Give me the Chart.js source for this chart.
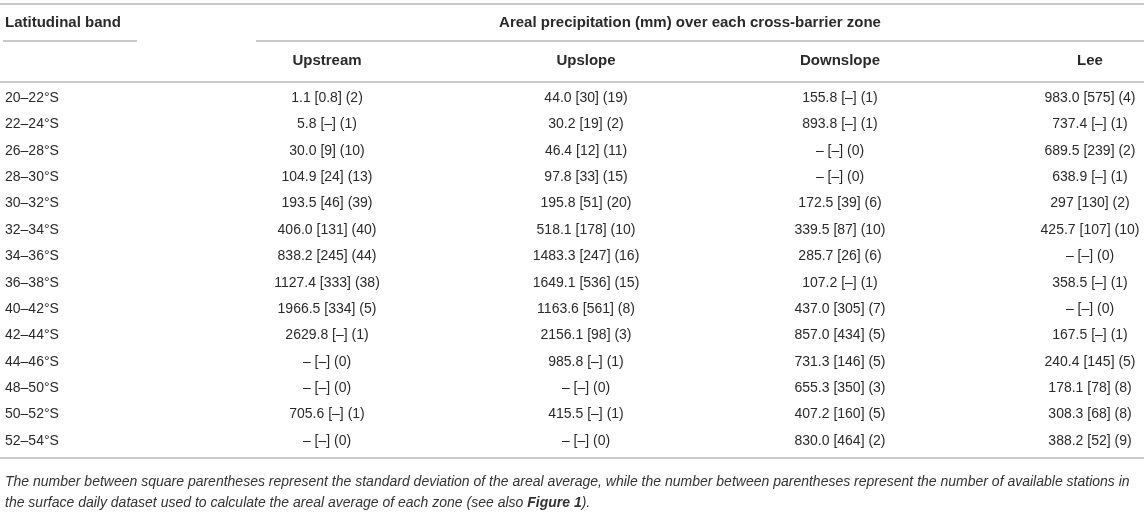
<!DOCTYPE html>
<html>
<head>
<meta charset="utf-8">
<script src="https://cdn.jsdelivr.net/npm/chart.js@4.4.1/dist/chart.umd.min.js"></script>
<style>
  html, body { margin: 0; padding: 0; background: #ffffff; }
  #wrap { width: 1144px; height: 524px; }
</style>
</head>
<body>
<div id="wrap"><canvas id="table-chart" width="1144" height="524"></canvas></div>
<script>
// rows of the table
const bands = [
  "20–22°S", "22–24°S", "26–28°S", "28–30°S", "30–32°S", "32–34°S", "34–36°S",
  "36–38°S", "40–42°S", "42–44°S", "44–46°S", "48–50°S", "50–52°S", "52–54°S",
];
const zones = ["Upstream", "Upslope", "Downslope", "Lee"];

// areal mean (mm), null = no value
const upstreamMean = ["1.1", "5.8", "30.0", "104.9", "193.5", "406.0", "838.2", "1127.4", "1966.5", "2629.8", null, null, "705.6", null];
const upslopeMean = ["44.0", "30.2", "46.4", "97.8", "195.8", "518.1", "1483.3", "1649.1", "1163.6", "2156.1", "985.8", null, "415.5", null];
const downslopeMean = ["155.8", "893.8", null, null, "172.5", "339.5", "285.7", "107.2", "437.0", "857.0", "731.3", "655.3", "407.2", "830.0"];
const leeMean = ["983.0", "737.4", "689.5", "638.9", "297", "425.7", null, "358.5", null, "167.5", "240.4", "178.1", "308.3", "388.2"];

// standard deviation of the areal average
const upstreamSd = [0.8, null, 9, 24, 46, 131, 245, 333, 334, null, null, null, null, null];
const upslopeSd = [30, 19, 12, 33, 51, 178, 247, 536, 561, 98, null, null, null, null];
const downslopeSd = [null, null, null, null, 39, 87, 26, null, 305, 434, 146, 350, 160, 464];
const leeSd = [575, null, 239, null, 130, 107, null, null, null, null, 145, 78, 68, 52];

// number of stations
const upstreamN = [2, 1, 10, 13, 39, 40, 44, 38, 5, 1, 0, 0, 1, 0];
const upslopeN = [19, 2, 11, 15, 20, 10, 16, 15, 8, 3, 1, 0, 1, 0];
const downslopeN = [1, 1, 0, 0, 6, 10, 6, 1, 7, 5, 5, 3, 5, 2];
const leeN = [4, 1, 2, 1, 2, 10, 0, 1, 0, 1, 5, 8, 8, 9];

const headerTitle = "Areal precipitation (mm) over each cross-barrier zone";
const bandTitle = "Latitudinal band";
const noteLine1 = "The number between square parentheses represent the standard deviation of the areal average, while the number between parentheses represent the number of available stations in";
const noteLine2 = ["the surface daily dataset used to calculate the areal average of each zone (see also ", "Figure 1", ")."];

// layout (page pixels)
const colCenters = [327, 586, 840, 1090];
const INK = "#2a2a2a";
const RULE = "#c9c9c9";
const FONT = "'Liberation Sans', Arial, Helvetica, sans-serif";

const means = [upstreamMean, upslopeMean, downslopeMean, leeMean];
const sds = [upstreamSd, upslopeSd, downslopeSd, leeSd];
const counts = [upstreamN, upslopeN, downslopeN, leeN];

function cellText(z, i) {
  const m = means[z][i] === null ? "–" : means[z][i];
  const s = sds[z][i] === null ? "–" : String(sds[z][i]);
  return m + " [" + s + "] (" + counts[z][i] + ")";
}

const tablePlugin = {
  id: "tableText",
  afterDatasetsDraw: (chart) => {
    const ctx = chart.ctx;
    const x = chart.scales.x;
    const y = chart.scales.y;
    const W = chart.width;
    const bottom = chart.chartArea.bottom;

    ctx.save();
    ctx.textBaseline = "middle";

    // rules
    ctx.strokeStyle = RULE;
    ctx.lineWidth = 2;
    const hline = (x0, x1, yy) => {
      ctx.beginPath();
      ctx.moveTo(x0, yy);
      ctx.lineTo(x1, yy);
      ctx.stroke();
    };
    hline(0, W, 4);
    hline(3, 137, 41);
    hline(256, W, 41);
    hline(0, W, 82);
    hline(0, W, bottom + 4);

    // header
    ctx.fillStyle = INK;
    ctx.font = "bold 15px " + FONT;
    ctx.textAlign = "left";
    ctx.fillText(bandTitle, 5, 23);
    ctx.textAlign = "center";
    ctx.fillText(headerTitle, 690, 23);
    zones.forEach((z, k) => {
      ctx.fillText(z, x.getPixelForValue(colCenters[k]), 61);
    });

    // row labels
    ctx.font = "14px " + FONT;
    ctx.textAlign = "left";
    bands.forEach((b, i) => {
      ctx.fillText(b, 5, y.getPixelForValue(i));
    });

    // cells, placed on the points of each dataset
    ctx.textAlign = "center";
    chart.data.datasets.forEach((ds, z) => {
      const meta = chart.getDatasetMeta(z);
      meta.data.forEach((pt, i) => {
        ctx.fillText(cellText(z, i), pt.x, pt.y);
      });
    });

    // footnote
    const fy = bottom + 28;
    ctx.textAlign = "left";
    ctx.fillStyle = "#333333";
    ctx.font = "italic 14px " + FONT;
    ctx.fillText(noteLine1, 5, fy);
    let fx = 5;
    noteLine2.forEach((part, k) => {
      ctx.font = (k === 1 ? "italic bold 14px " : "italic 14px ") + FONT;
      ctx.fillText(part, fx, fy + 21);
      fx += ctx.measureText(part).width;
    });
    ctx.restore();
  },
};

const ctx = document.getElementById("table-chart").getContext("2d");
new Chart(ctx, {
  type: "scatter",
  data: {
    labels: bands,
    datasets: zones.map((z, k) => ({
      label: z,
      data: bands.map((b) => ({ x: colCenters[k], y: b })),
      pointRadius: 0,
      pointHoverRadius: 0,
    })),
  },
  options: {
    responsive: false,
    animation: false,
    devicePixelRatio: 1,
    layout: { padding: { top: 85, bottom: 70, left: 0, right: 0 } },
    scales: {
      x: { type: "linear", min: 0, max: 1144, display: false },
      y: { type: "category", labels: bands, offset: true, display: false },
    },
    plugins: {
      legend: { display: false },
      tooltip: { enabled: false },
    },
  },
  plugins: [tablePlugin],
});
</script>
</body>
</html>
